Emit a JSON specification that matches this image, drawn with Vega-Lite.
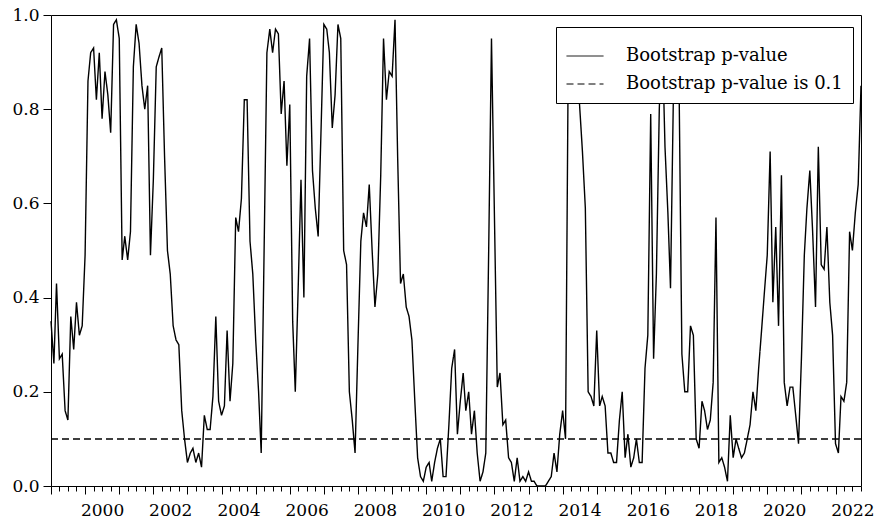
{
  "$schema": "https://vega.github.io/schema/vega-lite/v6.json",
  "width": 810,
  "height": 471,
  "autosize": {"type": "none"},
  "padding": {"left": 51, "top": 15, "right": 13, "bottom": 39},
  "background": "white",
  "config": {
    "view": {"stroke": "black", "strokeWidth": 1},
    "font": "DejaVu Serif",
    "axis": {"domain": false, "grid": false, "tickColor": "black", "tickWidth": 1, "labelColor": "black", "labelFont": "DejaVu Serif", "labelFontSize": 17, "title": null}
  },
  "layer": [
    {
      "data": {
        "format": {"parse": {"d": "utc:'%Y-%m'"}},
        "values": [
          {"d":"1999-01","p":0.35},{"d":"1999-02","p":0.26},{"d":"1999-03","p":0.43},{"d":"1999-04","p":0.27},{"d":"1999-05","p":0.28},{"d":"1999-06","p":0.16},{"d":"1999-07","p":0.14},{"d":"1999-08","p":0.36},{"d":"1999-09","p":0.29},{"d":"1999-10","p":0.39},{"d":"1999-11","p":0.32},{"d":"1999-12","p":0.34},
          {"d":"2000-01","p":0.49},{"d":"2000-02","p":0.86},{"d":"2000-03","p":0.92},{"d":"2000-04","p":0.93},{"d":"2000-05","p":0.82},{"d":"2000-06","p":0.92},{"d":"2000-07","p":0.78},{"d":"2000-08","p":0.88},{"d":"2000-09","p":0.83},{"d":"2000-10","p":0.75},{"d":"2000-11","p":0.98},{"d":"2000-12","p":0.99},
          {"d":"2001-01","p":0.95},{"d":"2001-02","p":0.48},{"d":"2001-03","p":0.53},{"d":"2001-04","p":0.48},{"d":"2001-05","p":0.54},{"d":"2001-06","p":0.89},{"d":"2001-07","p":0.98},{"d":"2001-08","p":0.94},{"d":"2001-09","p":0.85},{"d":"2001-10","p":0.80},{"d":"2001-11","p":0.85},{"d":"2001-12","p":0.49},
          {"d":"2002-01","p":0.65},{"d":"2002-02","p":0.89},{"d":"2002-03","p":0.91},{"d":"2002-04","p":0.93},{"d":"2002-05","p":0.70},{"d":"2002-06","p":0.50},{"d":"2002-07","p":0.45},{"d":"2002-08","p":0.34},{"d":"2002-09","p":0.31},{"d":"2002-10","p":0.30},{"d":"2002-11","p":0.16},{"d":"2002-12","p":0.10},
          {"d":"2003-01","p":0.05},{"d":"2003-02","p":0.07},{"d":"2003-03","p":0.08},{"d":"2003-04","p":0.05},{"d":"2003-05","p":0.07},{"d":"2003-06","p":0.04},{"d":"2003-07","p":0.15},{"d":"2003-08","p":0.12},{"d":"2003-09","p":0.12},{"d":"2003-10","p":0.19},{"d":"2003-11","p":0.36},{"d":"2003-12","p":0.18},
          {"d":"2004-01","p":0.15},{"d":"2004-02","p":0.17},{"d":"2004-03","p":0.33},{"d":"2004-04","p":0.18},{"d":"2004-05","p":0.26},{"d":"2004-06","p":0.57},{"d":"2004-07","p":0.54},{"d":"2004-08","p":0.61},{"d":"2004-09","p":0.82},{"d":"2004-10","p":0.82},{"d":"2004-11","p":0.52},{"d":"2004-12","p":0.45},
          {"d":"2005-01","p":0.31},{"d":"2005-02","p":0.20},{"d":"2005-03","p":0.07},{"d":"2005-04","p":0.50},{"d":"2005-05","p":0.92},{"d":"2005-06","p":0.97},{"d":"2005-07","p":0.92},{"d":"2005-08","p":0.97},{"d":"2005-09","p":0.96},{"d":"2005-10","p":0.79},{"d":"2005-11","p":0.86},{"d":"2005-12","p":0.68},
          {"d":"2006-01","p":0.81},{"d":"2006-02","p":0.35},{"d":"2006-03","p":0.20},{"d":"2006-04","p":0.42},{"d":"2006-05","p":0.65},{"d":"2006-06","p":0.40},{"d":"2006-07","p":0.87},{"d":"2006-08","p":0.95},{"d":"2006-09","p":0.67},{"d":"2006-10","p":0.59},{"d":"2006-11","p":0.53},{"d":"2006-12","p":0.75},
          {"d":"2007-01","p":0.98},{"d":"2007-02","p":0.97},{"d":"2007-03","p":0.92},{"d":"2007-04","p":0.76},{"d":"2007-05","p":0.83},{"d":"2007-06","p":0.98},{"d":"2007-07","p":0.95},{"d":"2007-08","p":0.50},{"d":"2007-09","p":0.47},{"d":"2007-10","p":0.20},{"d":"2007-11","p":0.14},{"d":"2007-12","p":0.07},
          {"d":"2008-01","p":0.30},{"d":"2008-02","p":0.52},{"d":"2008-03","p":0.58},{"d":"2008-04","p":0.55},{"d":"2008-05","p":0.64},{"d":"2008-06","p":0.50},{"d":"2008-07","p":0.38},{"d":"2008-08","p":0.45},{"d":"2008-09","p":0.66},{"d":"2008-10","p":0.95},{"d":"2008-11","p":0.82},{"d":"2008-12","p":0.88},
          {"d":"2009-01","p":0.87},{"d":"2009-02","p":0.99},{"d":"2009-03","p":0.70},{"d":"2009-04","p":0.43},{"d":"2009-05","p":0.45},{"d":"2009-06","p":0.38},{"d":"2009-07","p":0.36},{"d":"2009-08","p":0.31},{"d":"2009-09","p":0.18},{"d":"2009-10","p":0.06},{"d":"2009-11","p":0.02},{"d":"2009-12","p":0.01},
          {"d":"2010-01","p":0.04},{"d":"2010-02","p":0.05},{"d":"2010-03","p":0.01},{"d":"2010-04","p":0.05},{"d":"2010-05","p":0.08},{"d":"2010-06","p":0.10},{"d":"2010-07","p":0.02},{"d":"2010-08","p":0.02},{"d":"2010-09","p":0.13},{"d":"2010-10","p":0.25},{"d":"2010-11","p":0.29},{"d":"2010-12","p":0.11},
          {"d":"2011-01","p":0.18},{"d":"2011-02","p":0.24},{"d":"2011-03","p":0.16},{"d":"2011-04","p":0.20},{"d":"2011-05","p":0.11},{"d":"2011-06","p":0.16},{"d":"2011-07","p":0.07},{"d":"2011-08","p":0.01},{"d":"2011-09","p":0.03},{"d":"2011-10","p":0.07},{"d":"2011-11","p":0.50},{"d":"2011-12","p":0.95},
          {"d":"2012-01","p":0.58},{"d":"2012-02","p":0.21},{"d":"2012-03","p":0.24},{"d":"2012-04","p":0.13},{"d":"2012-05","p":0.14},{"d":"2012-06","p":0.06},{"d":"2012-07","p":0.05},{"d":"2012-08","p":0.01},{"d":"2012-09","p":0.06},{"d":"2012-10","p":0.01},{"d":"2012-11","p":0.02},{"d":"2012-12","p":0.01},
          {"d":"2013-01","p":0.03},{"d":"2013-02","p":0.01},{"d":"2013-03","p":0.01},{"d":"2013-04","p":0.0},{"d":"2013-05","p":0.0},{"d":"2013-06","p":0.0},{"d":"2013-07","p":0.0},{"d":"2013-08","p":0.01},{"d":"2013-09","p":0.02},{"d":"2013-10","p":0.07},{"d":"2013-11","p":0.03},{"d":"2013-12","p":0.11},
          {"d":"2014-01","p":0.16},{"d":"2014-02","p":0.10},{"d":"2014-03","p":0.88},{"d":"2014-04","p":0.97},{"d":"2014-05","p":0.93},{"d":"2014-06","p":0.88},{"d":"2014-07","p":0.81},{"d":"2014-08","p":0.71},{"d":"2014-09","p":0.59},{"d":"2014-10","p":0.20},{"d":"2014-11","p":0.19},{"d":"2014-12","p":0.17},
          {"d":"2015-01","p":0.33},{"d":"2015-02","p":0.17},{"d":"2015-03","p":0.19},{"d":"2015-04","p":0.17},{"d":"2015-05","p":0.07},{"d":"2015-06","p":0.07},{"d":"2015-07","p":0.05},{"d":"2015-08","p":0.05},{"d":"2015-09","p":0.14},{"d":"2015-10","p":0.20},{"d":"2015-11","p":0.06},{"d":"2015-12","p":0.11},
          {"d":"2016-01","p":0.04},{"d":"2016-02","p":0.06},{"d":"2016-03","p":0.10},{"d":"2016-04","p":0.05},{"d":"2016-05","p":0.05},{"d":"2016-06","p":0.25},{"d":"2016-07","p":0.32},{"d":"2016-08","p":0.79},{"d":"2016-09","p":0.27},{"d":"2016-10","p":0.45},{"d":"2016-11","p":0.80},{"d":"2016-12","p":0.97},
          {"d":"2017-01","p":0.72},{"d":"2017-02","p":0.58},{"d":"2017-03","p":0.42},{"d":"2017-04","p":0.83},{"d":"2017-05","p":0.95},{"d":"2017-06","p":0.85},{"d":"2017-07","p":0.28},{"d":"2017-08","p":0.20},{"d":"2017-09","p":0.20},{"d":"2017-10","p":0.34},{"d":"2017-11","p":0.32},{"d":"2017-12","p":0.10},
          {"d":"2018-01","p":0.08},{"d":"2018-02","p":0.18},{"d":"2018-03","p":0.16},{"d":"2018-04","p":0.12},{"d":"2018-05","p":0.14},{"d":"2018-06","p":0.22},{"d":"2018-07","p":0.57},{"d":"2018-08","p":0.05},{"d":"2018-09","p":0.06},{"d":"2018-10","p":0.04},{"d":"2018-11","p":0.01},{"d":"2018-12","p":0.15},
          {"d":"2019-01","p":0.06},{"d":"2019-02","p":0.10},{"d":"2019-03","p":0.08},{"d":"2019-04","p":0.06},{"d":"2019-05","p":0.07},{"d":"2019-06","p":0.10},{"d":"2019-07","p":0.13},{"d":"2019-08","p":0.20},{"d":"2019-09","p":0.16},{"d":"2019-10","p":0.25},{"d":"2019-11","p":0.33},{"d":"2019-12","p":0.41},
          {"d":"2020-01","p":0.49},{"d":"2020-02","p":0.71},{"d":"2020-03","p":0.39},{"d":"2020-04","p":0.55},{"d":"2020-05","p":0.34},{"d":"2020-06","p":0.66},{"d":"2020-07","p":0.22},{"d":"2020-08","p":0.17},{"d":"2020-09","p":0.21},{"d":"2020-10","p":0.21},{"d":"2020-11","p":0.15},{"d":"2020-12","p":0.09},
          {"d":"2021-01","p":0.27},{"d":"2021-02","p":0.49},{"d":"2021-03","p":0.59},{"d":"2021-04","p":0.67},{"d":"2021-05","p":0.54},{"d":"2021-06","p":0.38},{"d":"2021-07","p":0.72},{"d":"2021-08","p":0.47},{"d":"2021-09","p":0.46},{"d":"2021-10","p":0.55},{"d":"2021-11","p":0.39},{"d":"2021-12","p":0.32},
          {"d":"2022-01","p":0.09},{"d":"2022-02","p":0.07},{"d":"2022-03","p":0.19},{"d":"2022-04","p":0.18},{"d":"2022-05","p":0.22},{"d":"2022-06","p":0.54},{"d":"2022-07","p":0.50},{"d":"2022-08","p":0.58},{"d":"2022-09","p":0.64},{"d":"2022-10","p":0.85}
        ]
      },
      "mark": {"type": "line", "color": "black", "strokeWidth": 1.4},
      "encoding": {
        "x": {
          "field": "d",
          "type": "temporal",
          "scale": {"type": "utc", "nice": false, "domain": [{"year": 1999, "month": 1, "date": 1, "utc": true}, {"year": 2022, "month": 10, "date": 1, "utc": true}]},
          "axis": {
            "values": [
              {"year":1999,"month":1,"utc":true},{"year":1999,"month":4,"utc":true},{"year":1999,"month":7,"utc":true},{"year":1999,"month":10,"utc":true},
              {"year":2000,"month":1,"utc":true},{"year":2000,"month":4,"utc":true},{"year":2000,"month":7,"utc":true},{"year":2000,"month":10,"utc":true},
              {"year":2001,"month":1,"utc":true},{"year":2001,"month":4,"utc":true},{"year":2001,"month":7,"utc":true},{"year":2001,"month":10,"utc":true},
              {"year":2002,"month":1,"utc":true},{"year":2002,"month":4,"utc":true},{"year":2002,"month":7,"utc":true},{"year":2002,"month":10,"utc":true},
              {"year":2003,"month":1,"utc":true},{"year":2003,"month":4,"utc":true},{"year":2003,"month":7,"utc":true},{"year":2003,"month":10,"utc":true},
              {"year":2004,"month":1,"utc":true},{"year":2004,"month":4,"utc":true},{"year":2004,"month":7,"utc":true},{"year":2004,"month":10,"utc":true},
              {"year":2005,"month":1,"utc":true},{"year":2005,"month":4,"utc":true},{"year":2005,"month":7,"utc":true},{"year":2005,"month":10,"utc":true},
              {"year":2006,"month":1,"utc":true},{"year":2006,"month":4,"utc":true},{"year":2006,"month":7,"utc":true},{"year":2006,"month":10,"utc":true},
              {"year":2007,"month":1,"utc":true},{"year":2007,"month":4,"utc":true},{"year":2007,"month":7,"utc":true},{"year":2007,"month":10,"utc":true},
              {"year":2008,"month":1,"utc":true},{"year":2008,"month":4,"utc":true},{"year":2008,"month":7,"utc":true},{"year":2008,"month":10,"utc":true},
              {"year":2009,"month":1,"utc":true},{"year":2009,"month":4,"utc":true},{"year":2009,"month":7,"utc":true},{"year":2009,"month":10,"utc":true},
              {"year":2010,"month":1,"utc":true},{"year":2010,"month":4,"utc":true},{"year":2010,"month":7,"utc":true},{"year":2010,"month":10,"utc":true},
              {"year":2011,"month":1,"utc":true},{"year":2011,"month":4,"utc":true},{"year":2011,"month":7,"utc":true},{"year":2011,"month":10,"utc":true},
              {"year":2012,"month":1,"utc":true},{"year":2012,"month":4,"utc":true},{"year":2012,"month":7,"utc":true},{"year":2012,"month":10,"utc":true},
              {"year":2013,"month":1,"utc":true},{"year":2013,"month":4,"utc":true},{"year":2013,"month":7,"utc":true},{"year":2013,"month":10,"utc":true},
              {"year":2014,"month":1,"utc":true},{"year":2014,"month":4,"utc":true},{"year":2014,"month":7,"utc":true},{"year":2014,"month":10,"utc":true},
              {"year":2015,"month":1,"utc":true},{"year":2015,"month":4,"utc":true},{"year":2015,"month":7,"utc":true},{"year":2015,"month":10,"utc":true},
              {"year":2016,"month":1,"utc":true},{"year":2016,"month":4,"utc":true},{"year":2016,"month":7,"utc":true},{"year":2016,"month":10,"utc":true},
              {"year":2017,"month":1,"utc":true},{"year":2017,"month":4,"utc":true},{"year":2017,"month":7,"utc":true},{"year":2017,"month":10,"utc":true},
              {"year":2018,"month":1,"utc":true},{"year":2018,"month":4,"utc":true},{"year":2018,"month":7,"utc":true},{"year":2018,"month":10,"utc":true},
              {"year":2019,"month":1,"utc":true},{"year":2019,"month":4,"utc":true},{"year":2019,"month":7,"utc":true},{"year":2019,"month":10,"utc":true},
              {"year":2020,"month":1,"utc":true},{"year":2020,"month":4,"utc":true},{"year":2020,"month":7,"utc":true},{"year":2020,"month":10,"utc":true},
              {"year":2021,"month":1,"utc":true},{"year":2021,"month":4,"utc":true},{"year":2021,"month":7,"utc":true},{"year":2021,"month":10,"utc":true},
              {"year":2022,"month":1,"utc":true},{"year":2022,"month":4,"utc":true},{"year":2022,"month":7,"utc":true},{"year":2022,"month":10,"utc":true}
            ],
            "labelExpr": "utcmonth(datum.value) === 6 && utcyear(datum.value) % 2 === 0 ? utcFormat(datum.value, '%Y') : ''",
            "tickSize": {"condition": {"test": "utcmonth(datum.value) === 0", "value": 8}, "value": 5},
            "labelPadding": 11,
            "labelOverlap": false,
            "labelFlush": false,
            "labelBound": false
          }
        },
        "y": {
          "field": "p",
          "type": "quantitative",
          "scale": {"domain": [0, 1], "nice": false, "zero": false},
          "axis": {"values": [0, 0.2, 0.4, 0.6, 0.8, 1.0], "format": ".1f", "tickSize": 8, "labelPadding": 4}
        },
        "strokeDash": {
          "datum": "Bootstrap p-value",
          "type": "nominal",
          "scale": {"domain": ["Bootstrap p-value", "Bootstrap p-value is 0.1"], "range": [[1, 0], [7, 4]]},
          "legend": {
            "orient": "none",
            "legendX": 505,
            "legendY": 12,
            "title": null,
            "fillColor": "white",
            "strokeColor": "black",
            "padding": 10,
            "symbolType": "stroke",
            "symbolSize": 1369,
            "symbolStrokeWidth": 1,
            "symbolStrokeColor": "black",
            "labelFont": "DejaVu Serif",
            "labelFontSize": 18,
            "labelColor": "black",
            "labelLimit": 400,
            "labelOffset": 22,
            "rowPadding": -5
          }
        }
      }
    },
    {
      "data": {"values": [{}]},
      "mark": {"type": "rule", "color": "black", "strokeWidth": 1.5},
      "encoding": {
        "y": {"datum": 0.1, "type": "quantitative"},
        "strokeDash": {"datum": "Bootstrap p-value is 0.1", "type": "nominal"}
      }
    }
  ]
}
